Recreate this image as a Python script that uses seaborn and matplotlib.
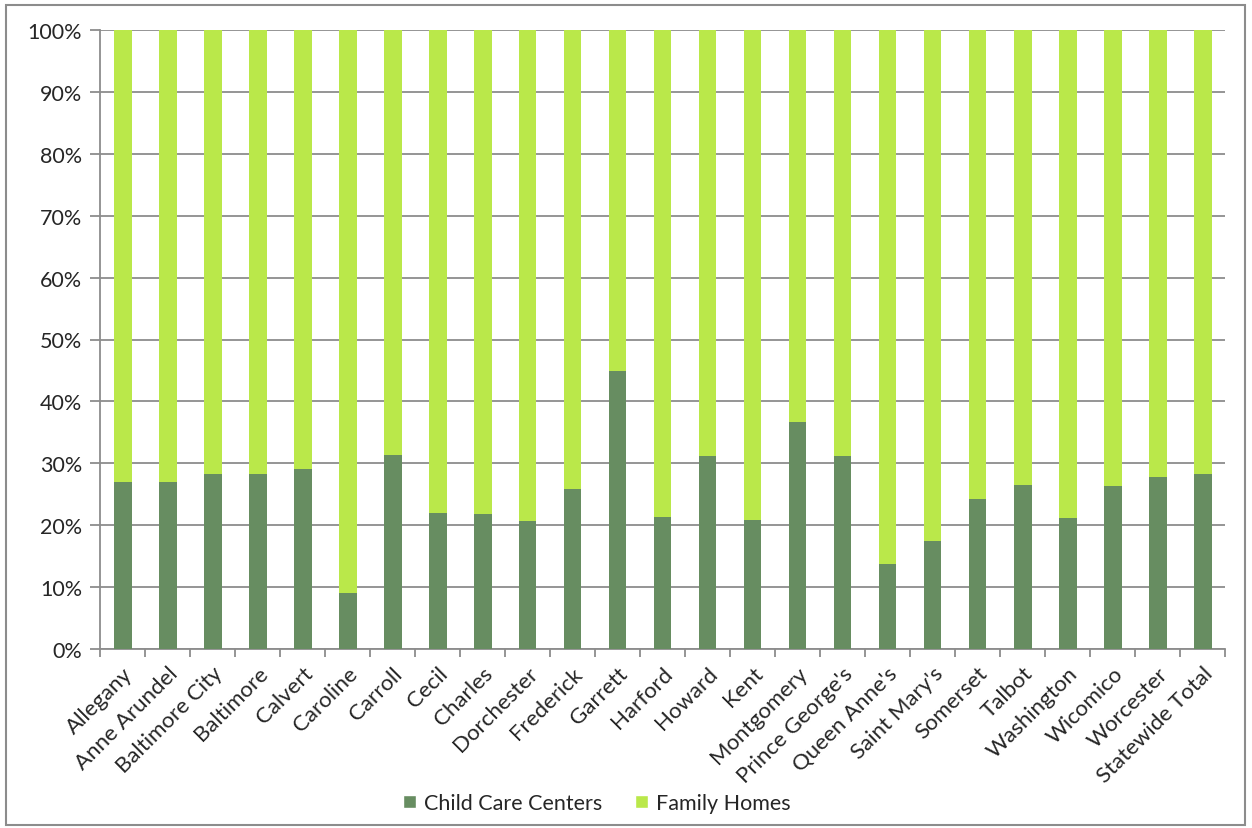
import matplotlib
matplotlib.use("Agg")
import matplotlib.pyplot as plt
from matplotlib.patches import Patch, Rectangle
from matplotlib.ticker import PercentFormatter, FixedLocator
import numpy as np
import pandas as pd
import seaborn as sns

counties = [
    "Allegany", "Anne Arundel", "Baltimore City", "Baltimore", "Calvert",
    "Caroline", "Carroll", "Cecil", "Charles", "Dorchester", "Frederick",
    "Garrett", "Harford", "Howard", "Kent", "Montgomery", "Prince George's",
    "Queen Anne's", "Saint Mary's", "Somerset", "Talbot", "Washington",
    "Wicomico", "Worcester", "Statewide Total",
]
# Share of licensed capacity in child care centers (%)
centers = [
    27.0, 26.9, 28.2, 28.3, 29.1,
    9.0, 31.4, 21.9, 21.8, 20.7, 25.8,
    44.9, 21.4, 31.2, 20.9, 36.7, 31.2,
    13.7, 17.4, 24.2, 26.5, 21.1,
    26.3, 27.8, 28.3,
]
family_homes = [100 - c for c in centers]

df = pd.DataFrame({"county": counties, "centers": centers, "family": family_homes})
df["total"] = df["centers"] + df["family"]

dark = "#678D61"
light = "#BAE84A"
grid_col = "#8C8C8C"
fs = 15.5

sns.set_theme(style="white")
plt.rcParams["font.family"] = ["Lato", "DejaVu Sans"]

fig = plt.figure(figsize=(12.52, 8.29), dpi=100)
ax = fig.add_axes([100 / 1252, 1 - 650 / 829, 1125 / 1252, 619 / 829])

# stacked bars: full height (family homes on top), then centers at the base
sns.barplot(data=df, x="county", y="total", color=light, width=0.4,
            saturation=1, ax=ax, zorder=3, linewidth=0)
sns.barplot(data=df, x="county", y="centers", color=dark, width=0.4,
            saturation=1, ax=ax, zorder=4, linewidth=0)

ax.set_xlim(-0.5, len(counties) - 0.5)
ax.set_ylim(0, 100)
ax.yaxis.set_major_locator(FixedLocator(np.arange(0, 101, 10)))
ax.yaxis.set_major_formatter(PercentFormatter(decimals=0))
ax.grid(axis="y", color=grid_col, linewidth=1.3, zorder=0)
ax.set_axisbelow(True)
ax.set_xlabel("")
ax.set_ylabel("")

for side in ["top", "right"]:
    ax.spines[side].set_visible(False)
for side in ["left", "bottom"]:
    ax.spines[side].set_color(grid_col)
    ax.spines[side].set_linewidth(1.3)

# category labels at bar centres, tick marks between categories
ax.set_xticks(range(len(counties)))
ax.set_xticklabels(counties, rotation=45, ha="right", rotation_mode="anchor",
                   fontsize=fs + 0.5)
ax.set_xticks(np.arange(-0.5, len(counties), 1), minor=True)
ax.tick_params(axis="x", which="major", length=0, pad=10)
ax.tick_params(axis="x", which="minor", length=6, width=1.3, color=grid_col,
               direction="out", bottom=True)
ax.tick_params(axis="y", length=7, width=1.3, color=grid_col, direction="out",
               left=True, labelsize=fs, pad=6)

handles = [Patch(facecolor=dark, label="Child Care Centers"),
           Patch(facecolor=light, label="Family Homes")]
fig.legend(handles=handles, loc="center", bbox_to_anchor=(597 / 1252, 1 - 804 / 829),
           ncol=2, frameon=False, fontsize=fs, handlelength=0.6,
           handleheight=0.6, handletextpad=0.4, columnspacing=1.5)

fig.patches.append(Rectangle((6 / 1252, 3 / 829), 1239 / 1252, 820 / 829,
                             transform=fig.transFigure, fill=False,
                             edgecolor=grid_col, linewidth=1.5))

fig.savefig("out.png", dpi=100)
